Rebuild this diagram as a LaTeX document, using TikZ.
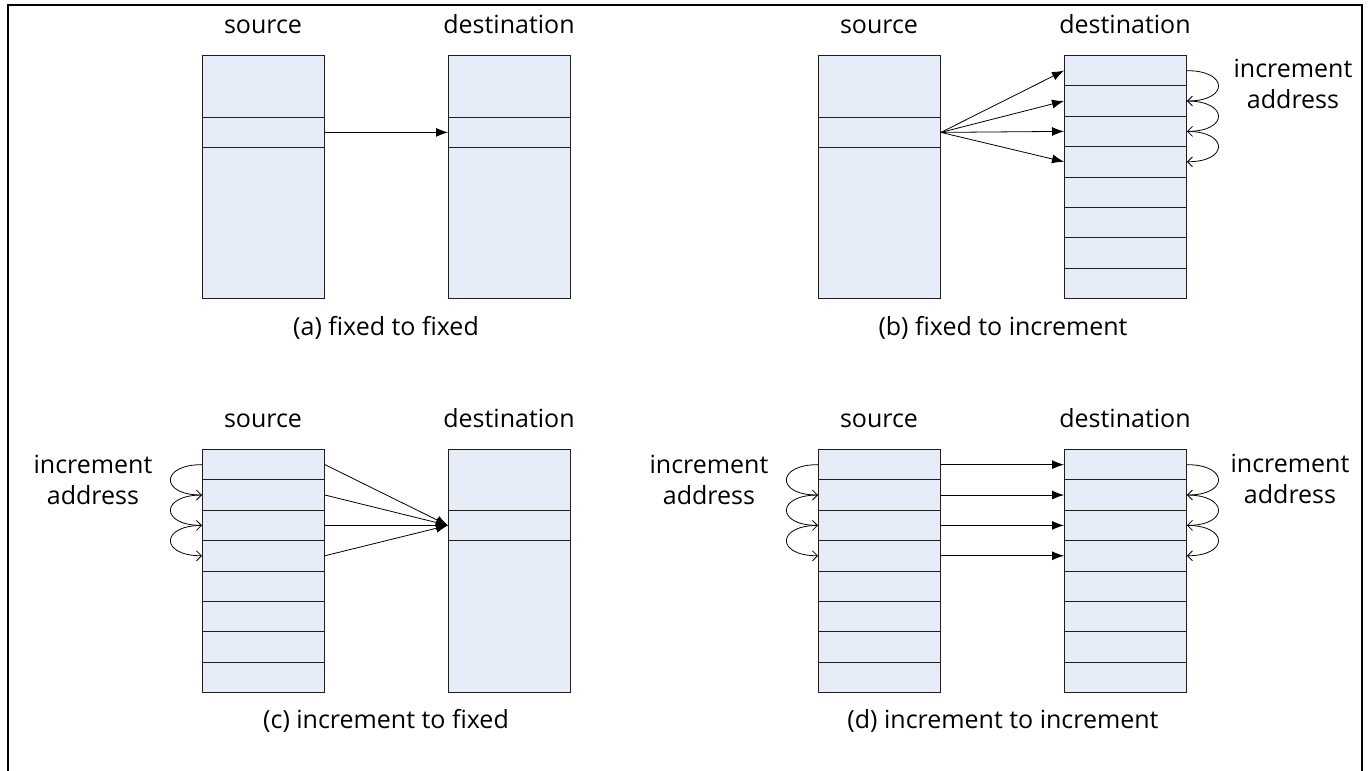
\documentclass[tikz,border=0pt]{standalone}
\usepackage{fontspec}
\setmainfont{Open Sans}
\usetikzlibrary{arrows.meta}
\definecolor{cellblue}{RGB}{231,237,248}
\definecolor{edge}{RGB}{30,30,30}
\tikzset{
  blk/.style={draw=edge, fill=cellblue, line width=0.9pt, minimum width=122pt, inner sep=0pt, anchor=north west},
  lbl/.style={font=\fontsize{25}{31}\selectfont, inner sep=0pt, align=center},
  tlbl/.style={lbl, anchor=base},
  arr/.style={line width=0.8pt, -{Latex[length=12pt,width=9pt]}},
  loopy/.style={line width=0.8pt, -{Straight Barb[length=5pt,width=10pt]}},
  frame/.style={line width=2pt}
}
\begin{document}
\begin{tikzpicture}[x=1pt,y=-1pt]
\useasboundingbox (0,0) rectangle (1368,771);
\draw[frame] (8,771) -- (8,5) -- (1362,5) -- (1362,771);
\def\rh{30.375}
% ---------- (a) ----------
\node[blk, minimum height=243pt] (as) at (202,55) {};
\node[blk, minimum height=\rh pt] (asc) at (202,116.75) {};
\node[blk, minimum height=243pt] (ad) at (448,55) {};
\node[blk, minimum height=\rh pt] (adc) at (448,116.75) {};
\node[tlbl] (asl) at (263,33) {source};
\node[tlbl] (adl) at (509,33) {destination};
\node[tlbl] (acap) at (386,335) {(a) fixed to fixed};
\draw[arr] (asc.east) -- (adc.west);
% ---------- (b) ----------
\node[blk, minimum height=243pt] (bs) at (818,55) {};
\node[blk, minimum height=\rh pt] (bsc) at (818,116.75) {};
\foreach \k in {1,...,8}{
  \node[blk, minimum height=\rh pt] (bd\k) at (1064,{55+\rh*(\k-1)}) {};
}
\node[tlbl] (bsl) at (879,33) {source};
\node[tlbl] (bdl) at (1125,33) {destination};
\node[lbl] (binc) at (1293,84) {increment\\address};
\node[tlbl] (bcap) at (1003,335) {(b) fixed to increment};
\foreach \k in {1,...,4}{
  \draw[arr] (bsc.east) -- (bd\k.west);
}
\foreach \k/\j in {1/2,2/3,3/4}{
  \draw[loopy] (bd\k.east) .. controls +(42,0) and +(42,0) .. (bd\j.east);
}
% ---------- (c) ----------
\foreach \k in {1,...,8}{
  \node[blk, minimum height=\rh pt] (cs\k) at (202,{449+\rh*(\k-1)}) {};
}
\node[blk, minimum height=243pt] (cd) at (448,449) {};
\node[blk, minimum height=\rh pt] (cdc) at (448,509.75) {};
\node[tlbl] (csl) at (263,427) {source};
\node[tlbl] (cdl) at (509,427) {destination};
\node[lbl] (cinc) at (93,480) {increment\\address};
\node[tlbl] (ccap) at (386,728) {(c) increment to fixed};
\foreach \k in {1,...,4}{
  \draw[arr] (cs\k.east) -- (cdc.west);
}
\foreach \k/\j in {1/2,2/3,3/4}{
  \draw[loopy] (cs\k.west) .. controls +(-42,0) and +(-42,0) .. (cs\j.west);
}
% ---------- (d) ----------
\foreach \k in {1,...,8}{
  \node[blk, minimum height=\rh pt] (ds\k) at (818,{449+\rh*(\k-1)}) {};
  \node[blk, minimum height=\rh pt] (dd\k) at (1064,{449+\rh*(\k-1)}) {};
}
\node[tlbl] (dsl) at (879,427) {source};
\node[tlbl] (ddl) at (1125,427) {destination};
\node[lbl] (dincl) at (709,480) {increment\\address};
\node[lbl] (dincr) at (1290,479) {increment\\address};
\node[tlbl] (dcap) at (1003,728) {(d) increment to increment};
\foreach \k in {1,...,4}{
  \draw[arr] (ds\k.east) -- (dd\k.west);
}
\foreach \k/\j in {1/2,2/3,3/4}{
  \draw[loopy] (ds\k.west) .. controls +(-42,0) and +(-42,0) .. (ds\j.west);
  \draw[loopy] (dd\k.east) .. controls +(42,0) and +(42,0) .. (dd\j.east);
}
\end{tikzpicture}
\end{document}
